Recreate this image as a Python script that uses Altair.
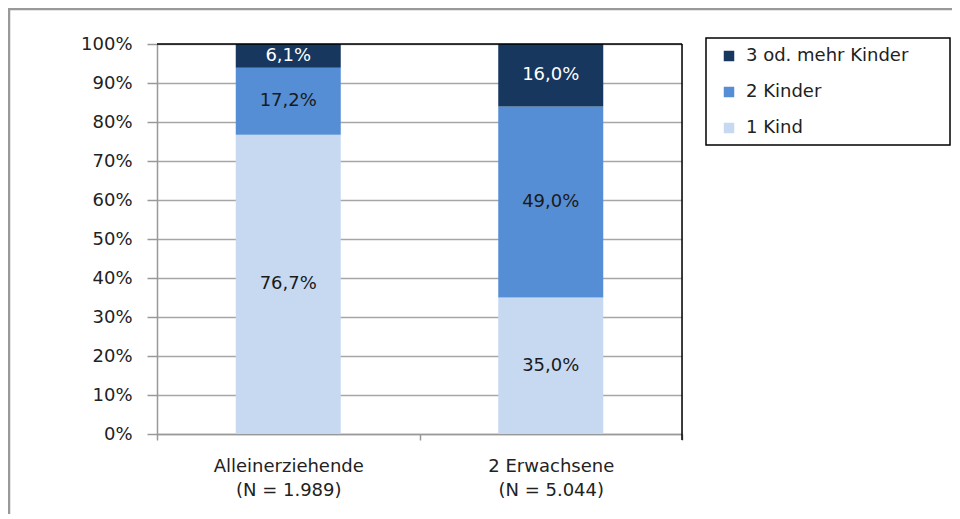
import altair as alt
import pandas as pd

groups = ["Alleinerziehende", "2 Erwachsene"]
group_n = ["1.989", "5.044"]
series = ["1 Kind", "2 Kinder", "3 od. mehr Kinder"]
vals_allein = [76.7, 17.2, 6.1]
vals_zwei = [35.0, 49.0, 16.0]
colors = ["#C6D9F1", "#558ED5", "#17375E"]
label_colors = ["#1a1a1a", "#1a1a1a", "#ffffff"]
y_ticks = [0, 10, 20, 30, 40, 50, 60, 70, 80, 90, 100]

rows = []
for g, n, vals in zip(groups, group_n, [vals_allein, vals_zwei]):
    for i, (s, v) in enumerate(zip(series, vals)):
        rows.append({"grp": g + "|(N = " + n + ")", "series": s, "value": v,
                     "ord": i, "tcol": label_colors[i]})
df = pd.DataFrame(rows)
grp_labels = [g + "|(N = " + n + ")" for g, n in zip(groups, group_n)]

W, H = 525, 390
FONT = "DejaVu Sans"
FS = 18

x_axis = alt.Axis(labelExpr="split(datum.label, '|')", labelAngle=0,
                  labelFontSize=FS, labelFont=FONT, labelColor="#222",
                  labelLineHeight=24, labelPadding=17,
                  tickBand="extent", tickSize=6, tickColor="#999",
                  tickWidth=1.5, domainColor="#999", domainWidth=1.5,
                  grid=False)
x_scale = alt.Scale(paddingInner=0, paddingOuter=0)
y_axis = alt.Axis(values=y_ticks, labelExpr="datum.value + '%'",
                  labelOverlap=False,
                  labelFontSize=FS, labelFont=FONT, labelColor="#222",
                  labelPadding=15, tickSize=10, tickColor="#999",
                  tickWidth=1.5, domainColor="#999", domainWidth=1.5,
                  grid=True, gridColor="#a6a6a6", gridWidth=1.5)
y_scale = alt.Scale(domain=[0, 100], nice=False)

base = alt.Chart(df).transform_stack(
    stack="value", groupby=["grp"], as_=["y0", "y1"],
    sort=[alt.SortField("ord", order="ascending")]
).transform_calculate(
    mid="(datum.y0 + datum.y1) / 2",
    txt="replace(format(datum.value, '.1f'), '.', ',') + '%'"
)

bars = base.mark_bar(stroke=None, width=alt.RelativeBandSize(0.4)).encode(
    x=alt.X("grp:N", sort=grp_labels, title=None, scale=x_scale, axis=x_axis),
    y=alt.Y("y0:Q", title=None, scale=y_scale, axis=y_axis),
    y2="y1:Q",
    color=alt.Color("series:N", title=None,
                    scale=alt.Scale(domain=series[::-1], range=colors[::-1]),
                    legend=alt.Legend(orient="none", legendX=549, legendY=-6,
                                      symbolType="square", symbolSize=110,
                                      symbolStrokeWidth=0, symbolOffset=5,
                                      labelFontSize=FS, labelFont=FONT,
                                      labelColor="#222", labelOffset=8,
                                      rowPadding=36 - FS, padding=9,
                                      labelLimit=300)),
)

labels = base.mark_text(fontSize=FS, font=FONT).encode(
    x=alt.X("grp:N", sort=grp_labels, title=None, scale=x_scale, axis=x_axis),
    y=alt.Y("mid:Q", title=None, scale=y_scale, axis=y_axis),
    text="txt:N",
    color=alt.Color("tcol:N", scale=None),
)

one = pd.DataFrame({"a": [0]})
top_line = alt.Chart(one).mark_rule(color="black", strokeWidth=1.5).encode(
    x=alt.value(0), x2=alt.value(W), y=alt.value(0))
right_line = alt.Chart(one).mark_rule(color="black", strokeWidth=1.5).encode(
    x=alt.value(W), y=alt.value(0), y2=alt.value(H + 6))
legend_box = alt.Chart(one).mark_rect(fill=None, stroke="black", strokeWidth=1.5).encode(
    x=alt.value(549), x2=alt.value(793), y=alt.value(-6), y2=alt.value(101))
frame_left = alt.Chart(one).mark_rule(color="#999", strokeWidth=2.5).encode(
    x=alt.value(-148), y=alt.value(-36), y2=alt.value(480))
frame_top = alt.Chart(one).mark_rule(color="#999", strokeWidth=2.5).encode(
    x=alt.value(-148), x2=alt.value(800), y=alt.value(-35))

chart = alt.layer(bars, labels, top_line, right_line, legend_box, frame_left, frame_top).properties(
    width=W, height=H,
    autosize=alt.AutoSizeParams(type="none"),
    padding={"left": 149, "top": 36, "right": 270, "bottom": 80},
).configure_view(stroke=None).configure(background="white")

chart.save("out.html", embed_options={"renderer": "svg", "actions": False})
